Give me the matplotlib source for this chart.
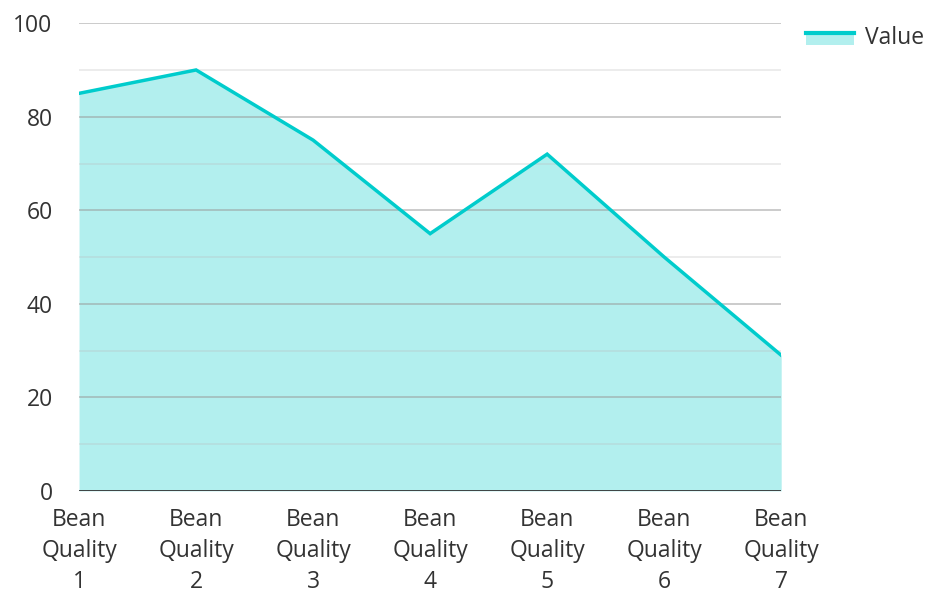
import matplotlib
matplotlib.use('Agg')
import matplotlib.pyplot as plt
from matplotlib.patches import Rectangle
from matplotlib.lines import Line2D
from matplotlib.legend_handler import HandlerBase

categories = ['Bean\nQuality\n1', 'Bean\nQuality\n2', 'Bean\nQuality\n3', 'Bean\nQuality\n4',
              'Bean\nQuality\n5', 'Bean\nQuality\n6', 'Bean\nQuality\n7']
values = [85, 90, 75, 55, 72, 50, 29]
series_name = 'Value'

line_col = '#00cccc'
fill_col = '#b2efee'
text_col = '#333333'


class AreaHandler(HandlerBase):  # linea sopra, riempimento sotto
    def create_artists(self, legend, orig, xd, yd, w, h, fs, trans):
        r = Rectangle((xd, yd - h * 0.1), w, h * 0.75, facecolor=fill_col, edgecolor='none', transform=trans)
        l = Line2D([xd, xd + w], [yd + h * 0.65, yd + h * 0.65], color=line_col, lw=3, transform=trans)
        return [r, l]


def main():
    plt.rcParams['font.family'] = ['Open Sans', 'DejaVu Sans']
    fig = plt.figure(figsize=(9.3, 5.95), dpi=100)
    ax = fig.add_axes([0.085, 0.175, 0.755, 0.786])

    x = list(range(len(values)))
    ax.fill_between(x, values, 0, color=fill_col, lw=0, zorder=1)
    ax.plot(x, values, color=line_col, lw=2.5, zorder=3, solid_joinstyle='miter')

    for v in range(10, 101, 10):
        if v % 20 == 0:
            ax.axhline(v, color='#999999', lw=1.3, alpha=0.55, zorder=2)
        else:
            ax.axhline(v, color='#bbbbbb', lw=1.3, alpha=0.3, zorder=2)
    ax.axhline(0, color='#333333', lw=2, zorder=4)

    ax.set_xlim(0, len(values) - 1)
    ax.set_ylim(0, 100)
    ax.set_yticks(range(0, 101, 20))
    ax.set_xticks(x)
    ax.set_xticklabels(categories, linespacing=1.4)
    ax.tick_params(axis='both', length=0, labelsize=16.5, colors=text_col)
    ax.tick_params(axis='y', pad=19)
    ax.tick_params(axis='x', pad=12)
    for s in ax.spines.values():
        s.set_visible(False)
    ax.set_facecolor('white')

    fig.legend([object()], [series_name], handler_map={object: AreaHandler()},
               loc='upper left', bbox_to_anchor=(0.867, 0.957), frameon=False,
               borderpad=0, borderaxespad=0,
               fontsize=16.5, handlelength=2.1, handletextpad=0.45, labelcolor=text_col)

    fig.savefig('out.png', dpi=100)


if __name__ == "__main__":
    main()
